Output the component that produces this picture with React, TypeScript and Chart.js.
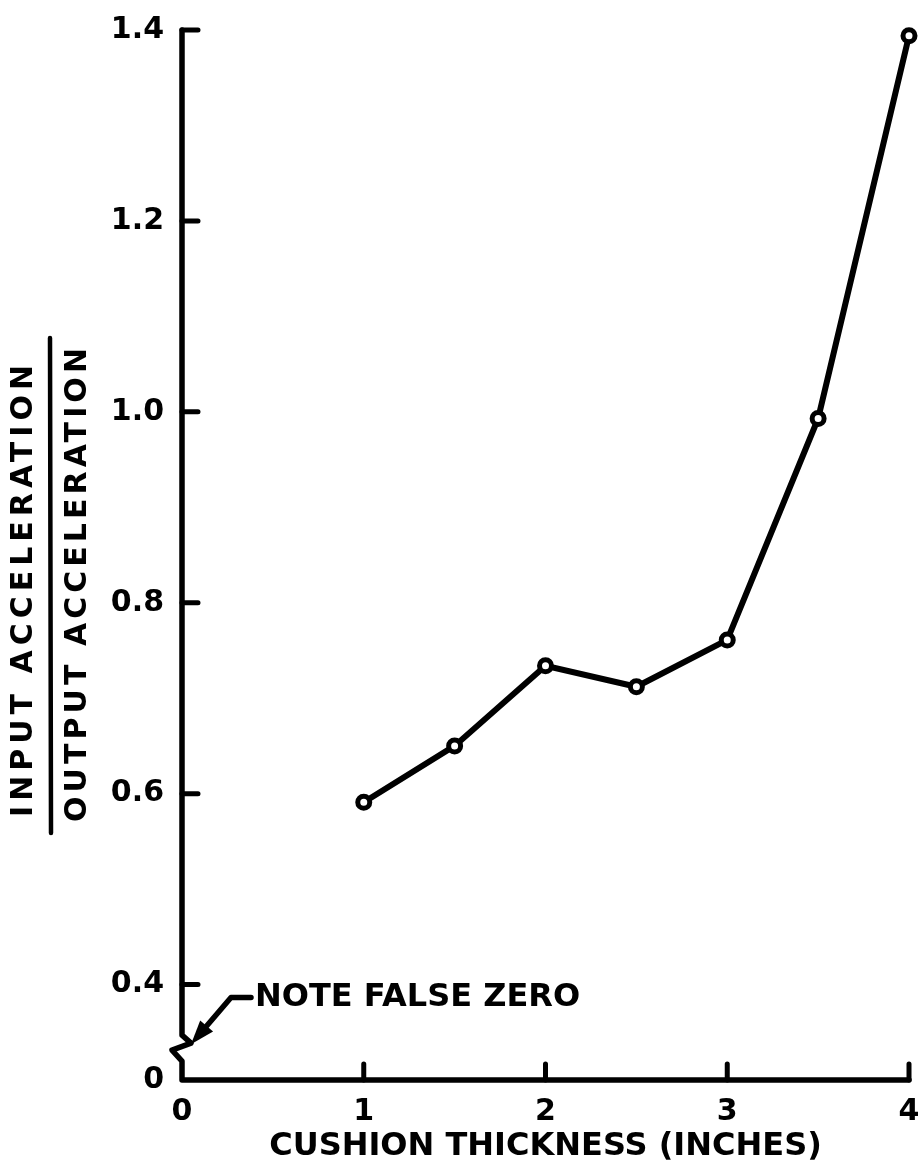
import React, { useEffect, useRef } from 'react';
import { Chart, registerables } from 'chart.js';

Chart.register(...registerables);

// ---- data ----
const THICKNESS_IN = [1, 1.5, 2, 2.5, 3, 3.5, 4];
const ACCEL_RATIO = [0.591, 0.65, 0.734, 0.712, 0.761, 0.993, 1.394];

const X_TICK_VALUES = [0, 1, 2, 3, 4];
const X_TICK_LABELS = ['0', '1', '2', '3', '4'];
const Y_TICK_VALUES = [0.3, 0.4, 0.6, 0.8, 1.0, 1.2, 1.4];
const Y_TICK_LABELS = ['0', '0.4', '0.6', '0.8', '1.0', '1.2', '1.4'];

const X_TITLE = 'CUSHION THICKNESS (INCHES)';
const Y_TITLE_TOP = 'INPUT ACCELERATION';
const Y_TITLE_BOTTOM = 'OUTPUT ACCELERATION';
const NOTE_TEXT = 'NOTE FALSE ZERO';

const X_MIN = 0;
const X_MAX = 4;
const Y_MIN = 0.3; // plotted as the false zero
const Y_MAX = 1.4;
const BREAK_VALUE = 0.347;

const FONT = '"DejaVu Sans", "Noto Sans", sans-serif';

function spacedText(ctx: CanvasRenderingContext2D, text: string, cx: number, cy: number, target: number) {
  (ctx as any).letterSpacing = '0px';
  const w = ctx.measureText(text).width;
  const sp = Math.max(0, (target - w) / (text.length - 1));
  (ctx as any).letterSpacing = sp + 'px';
  ctx.textAlign = 'center';
  ctx.textBaseline = 'middle';
  ctx.fillText(text, cx + sp / 2, cy);
  (ctx as any).letterSpacing = '0px';
}

const handAxes = {
  id: 'handAxes',
  beforeDatasetsDraw(chart: any) {
    const { ctx, scales } = chart;
    const x = scales.x;
    const y = scales.y;
    const x0 = x.getPixelForValue(X_MIN);
    const xEnd = x.getPixelForValue(X_MAX);
    const yTop = y.getPixelForValue(Y_MAX);
    const yBase = y.getPixelForValue(Y_MIN);
    const yBreak = y.getPixelForValue(BREAK_VALUE);

    ctx.save();
    ctx.strokeStyle = '#000';
    ctx.fillStyle = '#000';
    ctx.lineWidth = 5.5;
    ctx.lineCap = 'round';
    ctx.lineJoin = 'round';

    // axes with the broken (false zero) segment
    ctx.beginPath();
    ctx.moveTo(x0, yTop);
    ctx.lineTo(x0, yBreak);
    ctx.lineTo(x0 + 9, yBreak + 8);
    ctx.lineTo(x0 - 10, yBreak + 15);
    ctx.lineTo(x0, yBreak + 26);
    ctx.lineTo(x0, yBase);
    ctx.lineTo(xEnd, yBase);
    ctx.stroke();

    // inside tick marks
    ctx.lineWidth = 5;
    ctx.beginPath();
    Y_TICK_VALUES.forEach((v) => {
      if (v === Y_MIN) return;
      const py = y.getPixelForValue(v);
      ctx.moveTo(x0, py);
      ctx.lineTo(x0 + 16, py);
    });
    X_TICK_VALUES.forEach((v) => {
      if (v === X_MIN) return;
      const px = x.getPixelForValue(v);
      ctx.moveTo(px, yBase);
      ctx.lineTo(px, yBase - 16);
    });
    ctx.stroke();

    // note with leader arrow
    const y04 = y.getPixelForValue(0.4);
    const textX = x0 + 73;
    const textY = y04 + 13;
    ctx.font = `bold 32px ${FONT}`;
    ctx.textAlign = 'left';
    ctx.textBaseline = 'middle';
    ctx.fillText(NOTE_TEXT, textX, textY);

    const tipX = x0 + 9;
    const tipY = yBreak + 9;
    const kneeX = x0 + 49;
    const kneeY = textY;
    ctx.lineWidth = 5.5;
    ctx.beginPath();
    ctx.moveTo(textX - 4, textY);
    ctx.lineTo(kneeX, kneeY);
    const dx = tipX - kneeX;
    const dy = tipY - kneeY;
    const len = Math.hypot(dx, dy);
    const ux = dx / len;
    const uy = dy / len;
    const headLen = 24;
    const bx = tipX - ux * headLen;
    const by = tipY - uy * headLen;
    ctx.lineTo(bx, by);
    ctx.stroke();
    const px = -uy;
    const py = ux;
    ctx.beginPath();
    ctx.moveTo(tipX, tipY);
    ctx.lineTo(bx + px * 8.5, by + py * 8.5);
    ctx.lineTo(bx - px * 8.5, by - py * 8.5);
    ctx.closePath();
    ctx.fill();
    ctx.restore();
  },
  afterDraw(chart: any) {
    const { ctx } = chart;
    ctx.save();
    ctx.fillStyle = '#000';
    ctx.strokeStyle = '#000';
    ctx.font = `bold 30px ${FONT}`;
    // top line
    ctx.save();
    ctx.translate(24, 591);
    ctx.rotate(-Math.PI / 2);
    spacedText(ctx, Y_TITLE_TOP, 0, 0, 452);
    ctx.restore();
    // bottom line
    ctx.save();
    ctx.translate(78, 585);
    ctx.rotate(-Math.PI / 2);
    spacedText(ctx, Y_TITLE_BOTTOM, 0, 0, 474);
    ctx.restore();
    // fraction bar
    ctx.lineWidth = 4.5;
    ctx.lineCap = 'round';
    ctx.beginPath();
    ctx.moveTo(50, 338);
    ctx.lineTo(51, 833);
    ctx.stroke();
    ctx.restore();
  },
};

export default function App() {
  const canvasRef = useRef<HTMLCanvasElement | null>(null);

  useEffect(() => {
    if (!canvasRef.current) return;
    const chart = new Chart(canvasRef.current, {
      type: 'line',
      data: {
        datasets: [
          {
            data: THICKNESS_IN.map((t, i) => ({ x: t, y: ACCEL_RATIO[i] })),
            borderColor: '#000',
            borderWidth: 6,
            backgroundColor: '#fff',
            pointBackgroundColor: '#fff',
            pointBorderColor: '#000',
            pointRadius: 6,
            pointBorderWidth: 5,
            tension: 0,
            clip: false as any,
          },
        ],
      },
      options: {
        animation: false,
        responsive: false,
        devicePixelRatio: 1,
        layout: { padding: { left: 0, right: 7, top: 30, bottom: 0 } },
        plugins: {
          legend: { display: false },
          tooltip: { enabled: false },
        },
        scales: {
          x: {
            type: 'linear',
            position: 'bottom',
            min: X_MIN,
            max: X_MAX,
            grid: { display: false, drawTicks: false },
            border: { display: false },
            afterBuildTicks: (scale: any) => {
              scale.ticks = X_TICK_VALUES.map((v) => ({ value: v }));
            },
            afterFit: (scale: any) => {
              scale.height = 86;
              scale.paddingLeft = 0;
              scale.paddingRight = 0;
            },
            ticks: {
              color: '#000',
              padding: 14,
              maxRotation: 0,
              autoSkip: false,
              font: { family: FONT, size: 30, weight: 'bold' },
              callback: (_v: any, i: number) => X_TICK_LABELS[i],
            },
            title: {
              display: true,
              text: X_TITLE,
              color: '#000',
              padding: { top: 0, bottom: 0 },
              font: { family: FONT, size: 32, weight: 'bold' },
            },
          },
          y: {
            type: 'linear',
            position: 'left',
            min: Y_MIN,
            max: Y_MAX,
            grid: { display: false, drawTicks: false },
            border: { display: false },
            afterBuildTicks: (scale: any) => {
              scale.ticks = Y_TICK_VALUES.map((v) => ({ value: v }));
            },
            afterFit: (scale: any) => {
              scale.width = 182;
              scale.paddingTop = 0;
              scale.paddingBottom = 0;
            },
            ticks: {
              color: '#000',
              padding: 18,
              autoSkip: false,
              font: { family: FONT, size: 30, weight: 'bold' },
              callback: (_v: any, i: number) => Y_TICK_LABELS[i],
            },
          },
        },
      },
      plugins: [handAxes],
    });
    return () => chart.destroy();
  }, []);

  return (
    <div style={{ position: 'fixed', left: 0, top: 0, width: 920, height: 1166, background: '#fff' }}>
      <canvas ref={canvasRef} width={920} height={1166} style={{ display: 'block' }} />
    </div>
  );
}
